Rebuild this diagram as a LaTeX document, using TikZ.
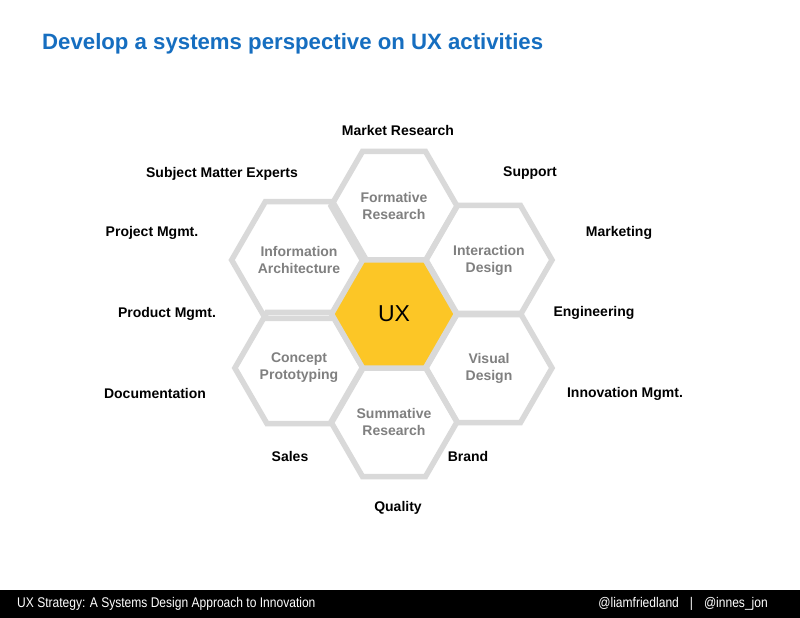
\documentclass[tikz,border=0pt]{standalone}
\usepackage{fontspec}
\setmainfont{Liberation Sans}
\newfontfamily\narrowfont[FakeStretch=0.86]{Liberation Sans}
\usepackage{xcolor}
\definecolor{titleblue}{RGB}{22, 110, 192}
\definecolor{hexgrey}{RGB}{217, 217, 217}
\definecolor{hexyellow}{RGB}{252, 198, 38}
\definecolor{labelgrey}{RGB}{128, 128, 128}
\usetikzlibrary{shapes.geometric}

\begin{document}
\begin{tikzpicture}[x=1pt, y=-1pt]
  \useasboundingbox (0,0) rectangle (800,618);
  \fill[white] (0,0) rectangle (800,618);

  % title
  \node[anchor=west, inner sep=0, font=\bfseries\fontsize{22.2}{26}\selectfont, text=titleblue] (title) at (42,44) {Develop a systems perspective on UX activities};

  % outer ring of activity hexagons
  \foreach \hname/\hx/\hy/\lineA/\lineB in {form/394/206/Formative/Research, ia/299/260/Information/Architecture, id/489/260/Interaction/Design, cp/299/368/Concept/Prototyping, vd/489/368/Visual/Design, summ/394/422/Summative/Research} {
    \node[regular polygon, regular polygon sides=6, minimum size=126, inner sep=0, draw=hexgrey, line width=5.5, text=labelgrey, align=center, font=\bfseries\fontsize{14}{17}\selectfont] (\hname) at (\hx,\hy) {\lineA\\\lineB};
  }

  % UX in the middle
  \node[regular polygon, regular polygon sides=6, minimum size=125, inner sep=0, draw=hexgrey, line width=5.5, fill=hexyellow, font=\fontsize{23}{26}\selectfont] (ux) at (394,314) {UX};

  % stakeholders around the honeycomb
  \foreach \sname/\sx/\sy/\slabel in {mr/398/130/Market Research, sme/222/174/Subject Matter Experts, sup/530/173/Support, pm/152/233/Project Mgmt., mkt/619/233/Marketing, prod/167/314/Product Mgmt., eng/594/313/Engineering, doc/155/393/Documentation, inn/625/394/Innovation Mgmt., sales/290/456/Sales, brand/468/456/Brand, qual/398/508/Quality} {
    \node[inner sep=0, font=\bfseries\fontsize{14}{16}\selectfont] (\sname) at (\sx,\sy) {\slabel};
  }

  % footer bar
  \fill[black] (0,590) rectangle (800,618);
  \node[anchor=west, inner sep=0, text=white, font=\narrowfont\fontsize{14}{16}\selectfont] (foot) at (17,604) {UX Strategy: A Systems Design Approach to Innovation};
  \node[anchor=east, inner sep=0, text=white, font=\narrowfont\fontsize{14}{16}\selectfont] (handles) at (768,604) {@liamfriedland\hspace{11pt}|\hspace{11pt}@innes\_jon};
\end{tikzpicture}
\end{document}
